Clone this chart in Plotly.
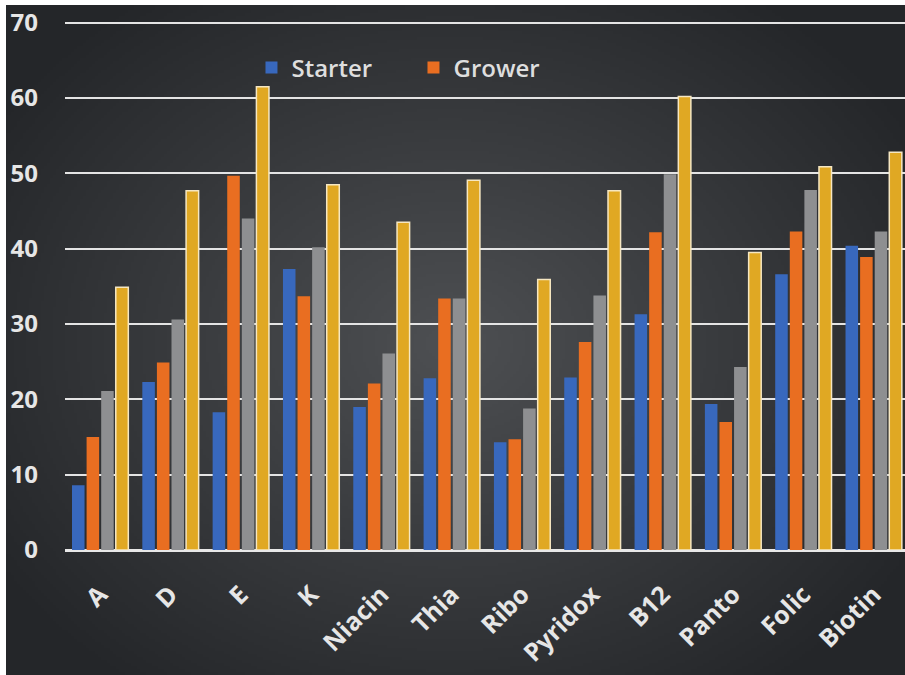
import base64
import struct
import zlib

import numpy as np
import plotly.graph_objects as go

# Vitamin categories along the x axis
vitamins = ["A", "D", "E", "K", "Niacin", "Thia", "Ribo", "Pyridox",
            "B12", "Panto", "Folic", "Biotin"]

# Series values
starter = [8.6, 22.3, 18.3, 37.3, 19.0, 22.8, 14.3, 22.9, 31.3, 19.4, 36.6, 40.4]
grower = [15.0, 24.9, 49.7, 33.7, 22.1, 33.4, 14.7, 27.6, 42.2, 17.0, 42.3, 38.9]
series3 = [21.1, 30.6, 44.0, 40.2, 26.1, 33.4, 18.8, 33.8, 49.9, 24.3, 47.8, 42.3]
series4 = [34.9, 47.7, 61.5, 48.5, 43.5, 49.1, 35.9, 47.7, 60.2, 39.5, 50.9, 52.8]

y_ticks = [0, 10, 20, 30, 40, 50, 60, 70]

W, H = 905, 675
M_L, M_R, M_T, M_B = 65, 0, 19, 125
PW, PH = W - M_L - M_R, H - M_T - M_B


def png_data_uri(rgb):
    """Encode an (h, w, 3) uint8 array as a PNG data URI."""
    h, w, _ = rgb.shape
    raw = b"".join(b"\x00" + rgb[i].tobytes() for i in range(h))

    def chunk(tag, data):
        body = tag + data
        return struct.pack(">I", len(data)) + body + struct.pack(">I", zlib.crc32(body) & 0xFFFFFFFF)

    png = (b"\x89PNG\r\n\x1a\n"
           + chunk(b"IHDR", struct.pack(">IIBBBBB", w, h, 8, 2, 0, 0, 0))
           + chunk(b"IDAT", zlib.compress(raw, 9))
           + chunk(b"IEND", b""))
    return "data:image/png;base64," + base64.b64encode(png).decode()


# Dark radial backdrop, lighter in the middle
bw, bh = 300, 224
yy, xx = np.mgrid[0:bh, 0:bw].astype(float)
cx, cy = bw * 0.49, bh * 0.50
r = np.sqrt(((xx - cx) / (bw * 0.60)) ** 2 + ((yy - cy) / (bh * 0.64)) ** 2)
t = np.clip(1 - r, 0, 1) ** 1.0
edge = np.array([36, 38, 41], float)
center = np.array([78, 80, 83], float)
bg = edge[None, None, :] + (center - edge)[None, None, :] * t[..., None]
bg_uri = png_data_uri(np.clip(bg, 0, 255).astype(np.uint8))

# backdrop spans from the thin white frame to the window edge
img_x0 = (6 - M_L) / PW
img_x1 = (W + 4 - M_L) / PW
img_y_top = (H - M_B - 5) / PH
img_y_bot = (H - M_B - H - 4) / PH

fig = go.Figure()
bar_specs = [
    ("Starter", starter, "#3868bd", True, 0, "rgba(0,0,0,0)"),
    ("Grower", grower, "#e96e21", True, 0, "rgba(0,0,0,0)"),
    ("Series 3", series3, "#8e8f91", False, 0, "rgba(0,0,0,0)"),
    ("Series 4", series4, "#e0a823", False, 1.5, "#f6e7c2"),
]
for name, vals, color, show, lw, lc in bar_specs:
    fig.add_trace(go.Bar(
        x=vitamins, y=vals, name=name, showlegend=show,
        marker=dict(color=color, line=dict(width=lw, color=lc)),
    ))

x_font = dict(family="Open Sans", size=25, color="#e6e6e6", weight="bold")
y_font = dict(family="Open Sans", size=24, color="#e6e6e6", weight="bold")

fig.update_layout(
    width=W, height=H,
    margin=dict(l=M_L, r=M_R, t=M_T, b=M_B, pad=0),
    paper_bgcolor="white",
    plot_bgcolor="rgba(0,0,0,0)",
    barmode="group",
    bargap=0.17,
    bargroupgap=0.14,
    images=[dict(
        source=bg_uri, xref="paper", yref="paper",
        x=img_x0, y=img_y_top, sizex=img_x1 - img_x0, sizey=img_y_top - img_y_bot,
        xanchor="left", yanchor="top", sizing="stretch", layer="below",
    )],
    legend=dict(
        orientation="h", x=0.222, y=(H - M_B - 68) / PH,
        xanchor="left", yanchor="middle",
        font=dict(family="Open Sans", size=24, color="#dedede", weight=600),
        bgcolor="rgba(0,0,0,0)", entrywidth=117,
    ),
    xaxis=dict(
        range=[-0.5, -0.5 + PW / 70.32],
        tickangle=-45, tickfont=x_font, showgrid=False,
        showline=False, ticks="", ticklabelstandoff=24,
    ),
    yaxis=dict(
        range=[0, 70.5], tickvals=y_ticks, tickfont=y_font,
        showgrid=True, gridcolor="#e4e4e4", gridwidth=2,
        zeroline=True, zerolinecolor="#e8e8e8", zerolinewidth=3,
        showline=False, ticks="", ticklabelstandoff=26,
    ),
)

fig.write_html("out.html")
